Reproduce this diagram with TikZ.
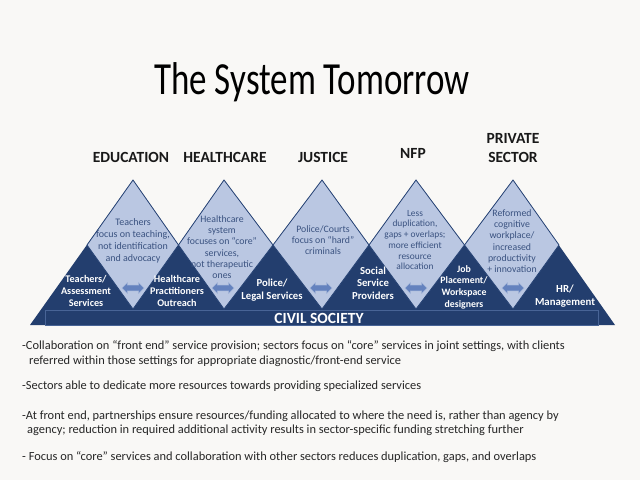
\documentclass[tikz,border=0pt]{standalone}
\usepackage{fontspec}
\setmainfont{Carlito}
\newfontfamily\narrowfont{Carlito}[FakeStretch=0.76]
\usepackage{tikz}
\usetikzlibrary{shapes,arrows,positioning,calc}
\usepackage{xcolor}
\definecolor{slidebg}{RGB}{249,248,246}
\definecolor{sectorlight}{RGB}{186,199,226}
\definecolor{sectordark}{RGB}{35,62,110}
\definecolor{sectoredge}{RGB}{38,66,116}
\definecolor{sectortext}{RGB}{58,82,128}
\definecolor{linkblue}{RGB}{100,130,190}
\definecolor{barline}{RGB}{72,100,150}
\tikzset{
    heading/.style={font=\bfseries\fontsize{15.5}{19.5}\selectfont, align=center, text=black!90, inner sep=0pt},
    focus/.style={font=\fontsize{9.8}{11.3}\selectfont, align=center, text=sectortext, inner sep=0pt},
    provider/.style={font=\bfseries\fontsize{10.2}{11.8}\selectfont, align=center, text=white, inner sep=0pt},
    link/.style={double arrow, double arrow head extend=2.5pt, minimum height=22pt, inner sep=2.6pt, fill=linkblue, draw=linkblue!60!white, line width=0.5pt},
    note/.style={font=\fontsize{12.4}{14.5}\selectfont, align=left, anchor=base west, inner sep=0pt, text=black!85},
    diamondface/.style={fill=sectorlight, draw=sectoredge, line width=0.8pt, line join=miter},
}

\begin{document}
\begin{tikzpicture}[x=1pt, y=-1pt]
    % Background
    \fill[slidebg] (0,0) rectangle (640,480);
    \useasboundingbox (0,0) rectangle (640,480);

    % Title
    \node[font=\narrowfont\fontsize{46}{50}\selectfont, anchor=base, inner sep=0pt] (title) at (312,94) {The System Tomorrow};

    % Peaks, bottoms and valleys
    \foreach \x/\label in {133/1, 224/2, 322/3, 416/4, 513/5} {
        \coordinate (T\label) at (\x,180);
        \coordinate (B\label) at (\x,309);
    }
    \foreach \x/\label in {87/0, 178.5/1, 273/2, 369/3, 464.5/4, 559/5} {
        \coordinate (V\label) at (\x,245);
    }
    \coordinate (barL) at (30,325);
    \coordinate (barR) at (615,325);

    % Dark base
    \fill[sectordark] (barL) -- (T1) -- (V1) -- (T2) -- (V2) -- (T3) -- (V3) -- (T4) -- (V4) -- (T5) -- (barR) -- cycle;

    % Light diamonds
    \foreach \i/\j in {1/0, 2/1, 3/2, 4/3, 5/4} {
        \filldraw[diamondface] (T\i) -- (V\j) -- (B\i) -- (V\i) -- cycle;
    }

    % Civil society bar
    \draw[barline, line width=0.6pt] (45,310.5) rectangle (598,325);
    \node[font=\bfseries\fontsize{15.5}{16}\selectfont, text=white, inner sep=0pt] (civil) at (319,318) {CIVIL SOCIETY};

    % Headings
    \node[heading, anchor=base] (edu) at (131,162.5) {EDUCATION};
    \node[heading, anchor=base] (health) at (225,162.5) {HEALTHCARE};
    \node[heading, anchor=base] (justice) at (323,162.5) {JUSTICE};
    \node[heading, anchor=base] (nfp) at (413,158.5) {NFP};
    \node[heading, anchor=base] (private) at (513,162.5) {PRIVATE\\SECTOR};

    % Sector focus
    \node[focus, font=\fontsize{10}{12}\selectfont] (fEdu) at (133,241) {Teachers\\focus on teaching,\\not identification\\and advocacy};
    \node[focus] (fHealth) at (222,247) {Healthcare\\system\\focuses on “core”\\services,\\not therapeutic\\ones};
    \node[focus] (fJustice) at (323,240) {Police/Courts\\focus on “hard”\\criminals};
    \node[focus, font=\fontsize{9.4}{10.7}\selectfont] (fNfp) at (415,240) {Less\\duplication,\\gaps + overlaps;\\more efficient\\resource\\allocation};
    \node[focus] (fPrivate) at (512,241) {Reformed\\cognitive\\workplace/\\increased\\productivity\\+ innovation};

    % Front-end providers
    \node[provider] (pTeach) at (86,291) {Teachers/\\Assessment\\Services};
    \node[provider] (pHealth) at (177,291) {Healthcare\\Practitioners\\Outreach};
    \node[provider, font=\bfseries\fontsize{10.7}{12.6}\selectfont] (pPolice) at (272,290) {Police/\\Legal Services};
    \node[provider, font=\bfseries\fontsize{10.7}{12.4}\selectfont] (pSocial) at (373,283) {Social\\Service\\Providers};
    \node[provider, font=\bfseries\fontsize{9.8}{11.6}\selectfont] (pJob) at (464,287) {Job\\Placement/\\Workspace\\designers};
    \node[provider, font=\bfseries\fontsize{10.8}{13.6}\selectfont] (pHR) at (565,296) {HR/\\Management};

    % Links between neighbours
    \foreach \x/\label in {133/1, 223/2, 321/3, 416/4, 513/5} {
        \node[link] (L\label) at (\x,288) {};
    }

    % Notes
    \node[note] (n1) at (22,364) {-Collaboration on “front end” service provision; sectors focus on “core” services in joint settings, with clients\\\hspace*{7pt}referred within those settings for appropriate diagnostic/front-end service};
    \node[note] (n2) at (22,389.5) {-Sectors able to dedicate more resources towards providing specialized services};
    \node[note] (n3) at (22,433.5) {-At front end, partnerships ensure resources/funding allocated to where the need is, rather than agency by\\\hspace*{5pt}agency; reduction in required additional activity results in sector-specific funding stretching further};
    \node[note] (n4) at (22,460) {- Focus on “core” services and collaboration with other sectors reduces duplication, gaps, and overlaps};
\end{tikzpicture}
\end{document}
